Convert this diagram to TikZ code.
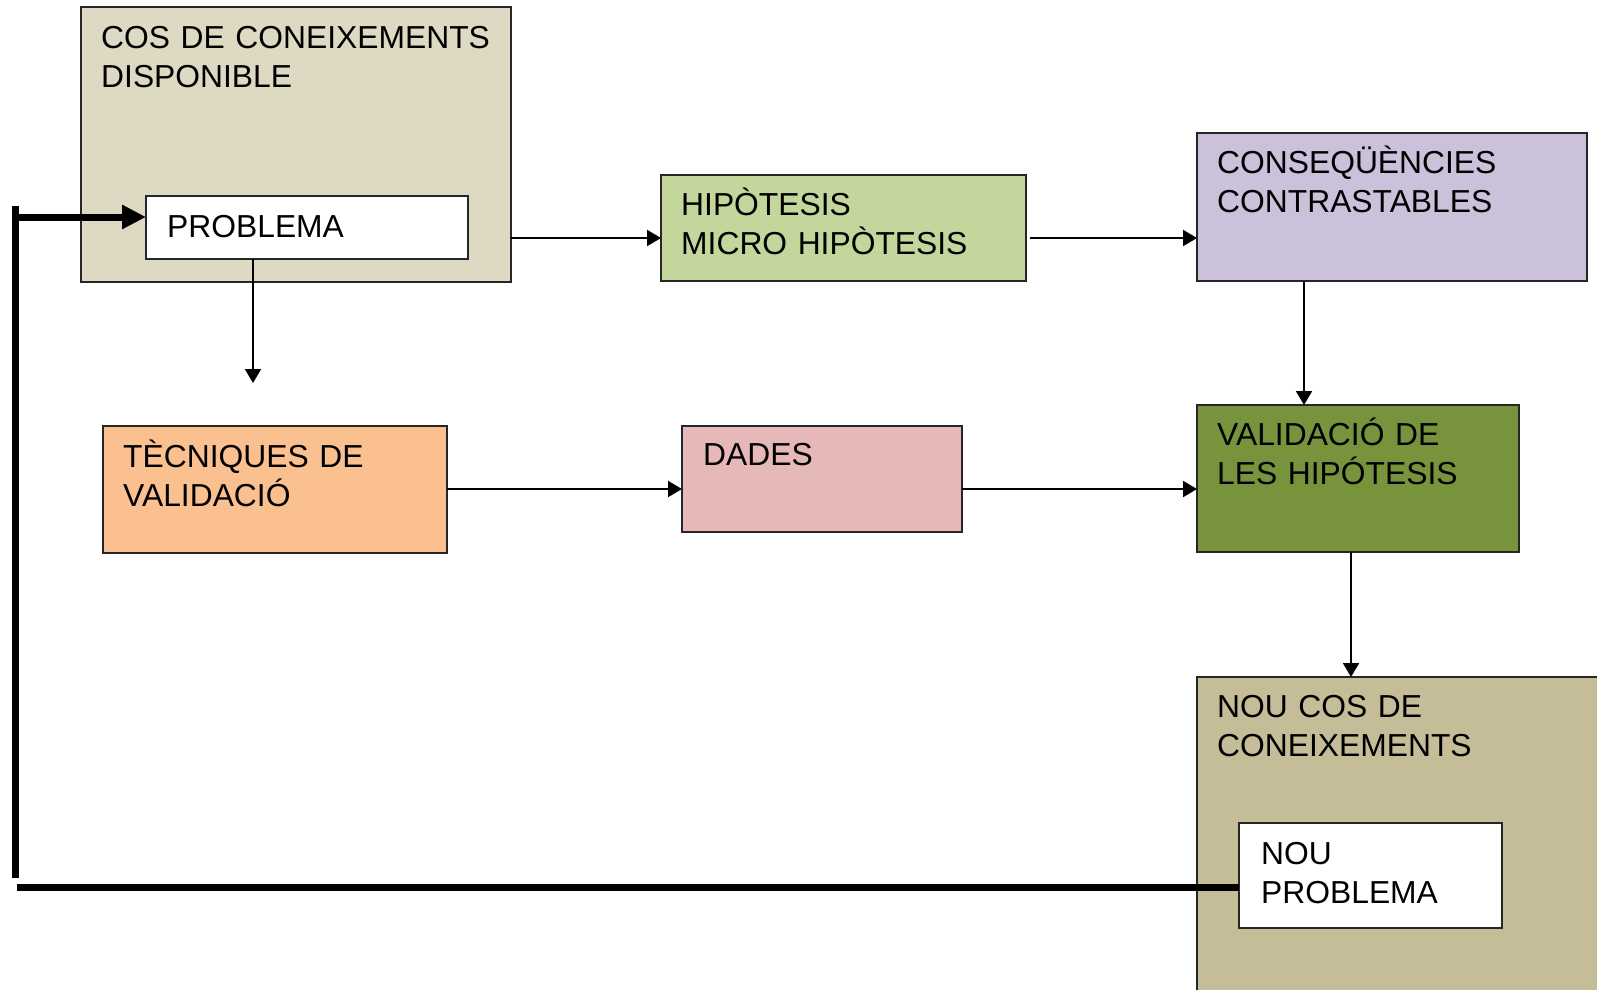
\documentclass[tikz,border=0pt]{standalone}
\usepackage{fontspec}
\setmainfont{Liberation Sans}
\usetikzlibrary{arrows.meta,calc}
\definecolor{cosc}{HTML}{DDD9C3}
\definecolor{hipc}{HTML}{C3D69B}
\definecolor{consc}{HTML}{CCC1DA}
\definecolor{valc}{HTML}{77933C}
\definecolor{tecc}{HTML}{FAC090}
\definecolor{dadc}{HTML}{E6B9B8}
\definecolor{nouc}{HTML}{C4BD97}
\begin{document}
\begin{tikzpicture}[x=1pt,y=-1pt,
  box/.style={draw=black!85,line width=1.5pt,anchor=north west,inner sep=0pt,outer sep=0pt},
  lbl/.style={anchor=base west,inner sep=0pt,text width=480pt,align=left,font=\fontsize{31.8}{39}\selectfont},
  arr/.style={line width=2pt,-{Triangle[length=14pt,width=16pt]}},
  fb/.style={line width=7pt,line cap=butt},
  fbarr/.style={line width=7pt,-{Triangle[length=24pt,width=23pt]}}]
\useasboundingbox (0,0) rectangle (1597,989);
\clip (0,0) rectangle (1597,989);
% boxes
\node[box,fill=cosc,minimum width=430pt,minimum height=275pt] (cos) at (81,7) {};
\node[box,fill=white,minimum width=322pt,minimum height=63pt] (prob) at (146,196) {};
\node[box,fill=hipc,minimum width=365pt,minimum height=106pt] (hip) at (661,175) {};
\node[box,fill=consc,minimum width=390pt,minimum height=148pt] (cons) at (1197,133) {};
\node[box,fill=tecc,minimum width=344pt,minimum height=127pt] (tec) at (103,426) {};
\node[box,fill=dadc,minimum width=280pt,minimum height=106pt] (dad) at (682,426) {};
\node[box,fill=valc,minimum width=322pt,minimum height=147pt] (val) at (1197,405) {};
\node[box,fill=nouc,minimum width=450pt,minimum height=350pt] (nou) at (1197,677) {};
\node[box,fill=white,minimum width=263pt,minimum height=105pt] (np) at (1239,823) {};
% labels
\node[lbl] (cosT) at ($(cos.north west)+(20,41)$) {COS DE CONEIXEMENTS\\DISPONIBLE};
\node[lbl] (probT) at ($(prob.north west)+(21,41)$) {PROBLEMA};
\node[lbl] (hipT) at ($(hip.north west)+(20,40)$) {HIPÒTESIS\\MICRO HIPÒTESIS};
\node[lbl] (consT) at ($(cons.north west)+(20,40)$) {CONSEQÜÈNCIES\\CONTRASTABLES};
\node[lbl] (tecT) at ($(tec.north west)+(20,41)$) {TÈCNIQUES DE\\VALIDACIÓ};
\node[lbl] (dadT) at ($(dad.north west)+(21,39)$) {DADES};
\node[lbl] (valT) at ($(val.north west)+(20,40)$) {VALIDACIÓ DE\\LES HIPÓTESIS};
\node[lbl] (nouT) at ($(nou.north west)+(20,40)$) {NOU COS DE\\CONEIXEMENTS};
\node[lbl] (npT) at ($(np.north west)+(22,41)$) {NOU\\PROBLEMA};
% thin arrows
\coordinate (r1) at (0,238);
\coordinate (r2) at (0,489);
\draw[arr] (cos.east |- r1) -- (hip.west |- r1);
\draw[arr] ($(hip.east |- r1)+(4,0)$) -- (cons.west |- r1);
\draw[arr] (tec.east |- r2) -- (dad.west |- r2);
\draw[arr] (dad.east |- r2) -- (val.west |- r2);
\coordinate (c1) at (1304,0);
\coordinate (c2) at (1351,0);
\draw[arr] (cons.south -| c1) -- (val.north -| c1);
\draw[arr] (val.south -| c2) -- (nou.north -| c2);
\coordinate (pd) at (253,383);
\draw[arr] (prob.south -| pd) -- (pd);
% thick feedback line
\coordinate (fbA) at (17,887);
\coordinate (fbB) at (15,878);
\coordinate (fbC) at (15,206);
\coordinate (fbD) at (15,217);
\draw[fb] (np.west |- fbA) -- (fbA);
\draw[fb] (fbB) -- (fbC);
\draw[fbarr] (fbD) -- (prob.west |- fbD);
\end{tikzpicture}
\end{document}
